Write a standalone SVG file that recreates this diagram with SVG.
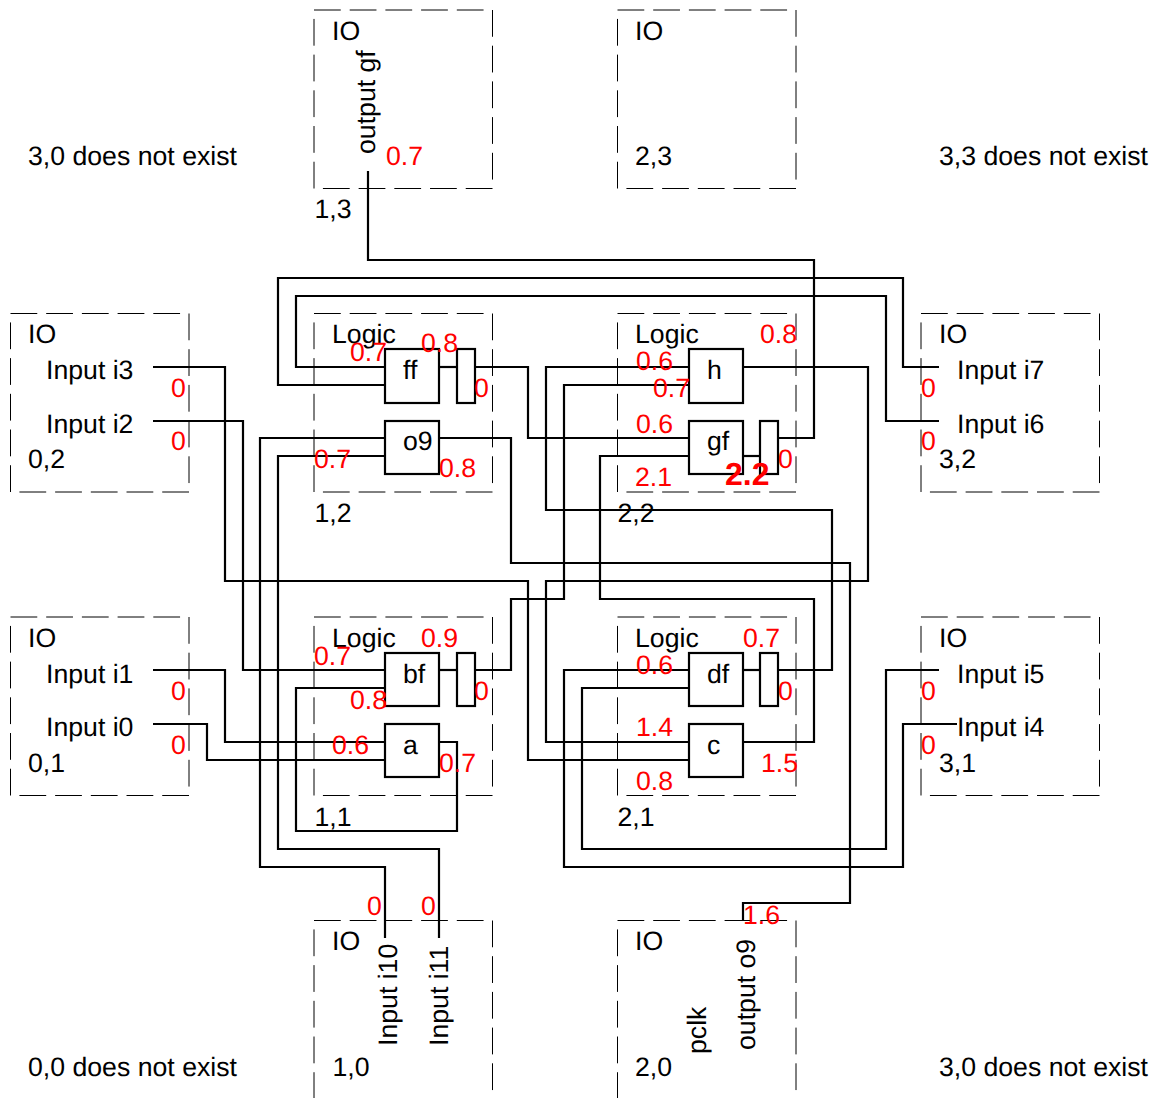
<svg xmlns="http://www.w3.org/2000/svg" width="1156" height="1098" viewBox="0 0 1156 1098">
<style>
text{font-family:"Liberation Sans",Arial,sans-serif;font-size:26.67px;fill:#000;text-rendering:geometricPrecision}
.d{fill:#f00}
.b{fill:#f00;font-weight:bold;font-size:32px}
.tile{fill:none;stroke:#000;stroke-width:1;stroke-dasharray:26.775 8.925}
.gate{fill:none;stroke:#000;stroke-width:2.2}
.w{fill:none;stroke:#000;stroke-width:2.2}
</style>
<rect width="1156" height="1098" fill="#fff"/>
<g id="tiles">
<g id="tile-1-3"><rect class="tile" x="314" y="10" width="178.5" height="178.5"/><text x="332" y="40">IO</text><text x="314.5" y="218">1,3</text><text transform="translate(375 154) rotate(-90)">output gf</text></g>
<g id="tile-2-3"><rect class="tile" x="617.5" y="10" width="178.5" height="178.5"/><text x="635" y="40">IO</text><text x="635" y="165">2,3</text></g>
<g id="tile-0-2"><rect class="tile" x="10.5" y="313.5" width="178.5" height="178.5"/><text x="28" y="343">IO</text><text x="46" y="379">Input i3</text><text x="46" y="433">Input i2</text><text x="28" y="468">0,2</text></g>
<g id="tile-1-2"><rect class="tile" x="314" y="313.5" width="178.5" height="178.5"/><text x="332" y="343">Logic</text><text x="314.5" y="522">1,2</text></g>
<g id="tile-2-2"><rect class="tile" x="617.5" y="313.5" width="178.5" height="178.5"/><text x="635" y="343">Logic</text><text x="617.5" y="522">2,2</text></g>
<g id="tile-3-2"><rect class="tile" x="921" y="313.5" width="178.5" height="178.5"/><text x="939" y="343">IO</text><text x="957" y="379">Input i7</text><text x="957" y="433">Input i6</text><text x="939" y="468">3,2</text></g>
<g id="tile-0-1"><rect class="tile" x="10.5" y="617" width="178.5" height="178.5"/><text x="28" y="647">IO</text><text x="46" y="683">Input i1</text><text x="46" y="736">Input i0</text><text x="28" y="772">0,1</text></g>
<g id="tile-1-1"><rect class="tile" x="314" y="617" width="178.5" height="178.5"/><text x="332" y="647">Logic</text><text x="314.5" y="825.5">1,1</text></g>
<g id="tile-2-1"><rect class="tile" x="617.5" y="617" width="178.5" height="178.5"/><text x="635" y="647">Logic</text><text x="617.5" y="825.5">2,1</text></g>
<g id="tile-3-1"><rect class="tile" x="921" y="617" width="178.5" height="178.5"/><text x="939" y="647">IO</text><text x="957" y="683">Input i5</text><text x="957" y="736">Input i4</text><text x="939" y="772">3,1</text></g>
<g id="tile-1-0"><rect class="tile" x="314" y="920.5" width="178.5" height="178.5"/><text x="332" y="950">IO</text><text x="332.5" y="1075.5">1,0</text><text transform="translate(397 1046) rotate(-90)">Input i10</text><text transform="translate(448 1046) rotate(-90)">Input i11</text></g>
<g id="tile-2-0"><rect class="tile" x="617.5" y="920.5" width="178.5" height="178.5"/><text x="635" y="950">IO</text><text x="635" y="1075.5">2,0</text><text transform="translate(706 1054) rotate(-90)">pclk</text><text transform="translate(755 1050) rotate(-90)">output o9</text></g>
<g id="missing"><text x="28" y="165">3,0 does not exist</text><text x="939" y="165">3,3 does not exist</text><text x="28" y="1075.5">0,0 does not exist</text><text x="939" y="1075.5">3,0 does not exist</text></g>
</g>
<g id="connectors">
<polyline class="w" points="778,438 814,438 814,260 368,260 368,171"/>
<polyline class="w" points="939,367 903,367 903,278 278,278 278,385 385,385"/>
<polyline class="w" points="939,421 886,421 886,296 296,296 296,367 385,367"/>
<polyline class="w" points="153,367 225,367 225,581 528,581 528,760 689,760"/>
<polyline class="w" points="153,421 243,421 243,670 385,670"/>
<polyline class="w" points="475,367 528,367 528,438 689,438"/>
<polyline class="w" points="743,367 868,367 868,581 546,581 546,742 689,742"/>
<polyline class="w" points="689,367 546,367 546,510 832,510 832,670 778,670"/>
<polyline class="w" points="689,385 564,385 564,599 511,599 511,670 475,670"/>
<polyline class="w" points="689,456 600,456 600,599 814,599 814,742 743,742"/>
<polyline class="w" points="385,438 260,438 260,867 385,867 385,938"/>
<polyline class="w" points="385,456 278,456 278,849 439,849 439,938"/>
<polyline class="w" points="439,438 511,438 511,563 850,563 850,903 743,903 743,921"/>
<polyline class="w" points="385,688 296,688 296,831 457,831 457,742 439,742"/>
<polyline class="w" points="385,742 225,742 225,670 153,670"/>
<polyline class="w" points="385,760 207,760 207,724 153,724"/>
<polyline class="w" points="689,670 564,670 564,867 903,867 903,724 957,724"/>
<polyline class="w" points="939,670 886,670 886,849 582,849 582,688 689,688"/>
<line class="w" x1="439" y1="367" x2="457" y2="367"/>
<line class="w" x1="743" y1="456" x2="760" y2="456"/>
<line class="w" x1="439" y1="670" x2="457" y2="670"/>
<line class="w" x1="743" y1="670" x2="760" y2="670"/>
</g>
<g id="nodes">
<g id="ff"><rect class="gate" x="385" y="349" width="54" height="54"/><text x="403" y="379">ff</text></g>
<g id="ff-latch"><rect class="gate" x="457" y="349" width="18" height="54"/></g>
<g id="o9"><rect class="gate" x="385" y="421" width="54" height="53"/><text x="403" y="450">o9</text></g>
<g id="h"><rect class="gate" x="689" y="349" width="54" height="54"/><text x="707" y="379">h</text></g>
<g id="gf"><rect class="gate" x="689" y="421" width="54" height="53"/><text x="707" y="450">gf</text></g>
<g id="gf-latch"><rect class="gate" x="760" y="421" width="18" height="53"/></g>
<g id="bf"><rect class="gate" x="385" y="653" width="54" height="53"/><text x="403" y="683">bf</text></g>
<g id="bf-latch"><rect class="gate" x="457" y="653" width="18" height="53"/></g>
<g id="a"><rect class="gate" x="385" y="724" width="54" height="53"/><text x="403" y="754">a</text></g>
<g id="df"><rect class="gate" x="689" y="653" width="54" height="53"/><text x="707" y="683">df</text></g>
<g id="df-latch"><rect class="gate" x="760" y="653" width="18" height="53"/></g>
<g id="c"><rect class="gate" x="689" y="724" width="54" height="53"/><text x="707" y="754">c</text></g>
</g>
<g id="delays">
<text class="d" x="386" y="165">0.7</text>
<text class="d" x="171" y="397">0</text><text class="d" x="171" y="450">0</text>
<text class="d" x="171" y="700">0</text><text class="d" x="171" y="754">0</text>
<text class="d" x="921" y="397">0</text><text class="d" x="921" y="450">0</text>
<text class="d" x="921" y="700">0</text><text class="d" x="921" y="754">0</text>
<text class="d" x="350" y="361">0.7</text><text class="d" x="421" y="352">0.8</text><text class="d" x="474" y="397">0</text>
<text class="d" x="314" y="468">0.7</text><text class="d" x="439" y="477">0.8</text>
<text class="d" x="760" y="343">0.8</text><text class="d" x="636" y="370">0.6</text><text class="d" x="653" y="397">0.7</text>
<text class="d" x="636" y="433">0.6</text><text class="d" x="635" y="486">2.1</text><text class="b" x="725" y="485">2.2</text><text class="d" x="778" y="468">0</text>
<text class="d" x="314" y="665">0.7</text><text class="d" x="421" y="647">0.9</text><text class="d" x="350" y="709">0.8</text><text class="d" x="474" y="700">0</text>
<text class="d" x="332" y="754">0.6</text><text class="d" x="439" y="772">0.7</text>
<text class="d" x="743" y="647">0.7</text><text class="d" x="636" y="674">0.6</text><text class="d" x="778" y="700">0</text>
<text class="d" x="636" y="736">1.4</text><text class="d" x="761" y="772">1.5</text><text class="d" x="636" y="790">0.8</text>
<text class="d" x="743" y="924">1.6</text><text class="d" x="367" y="915">0</text><text class="d" x="421" y="915">0</text>
</g>
</svg>
